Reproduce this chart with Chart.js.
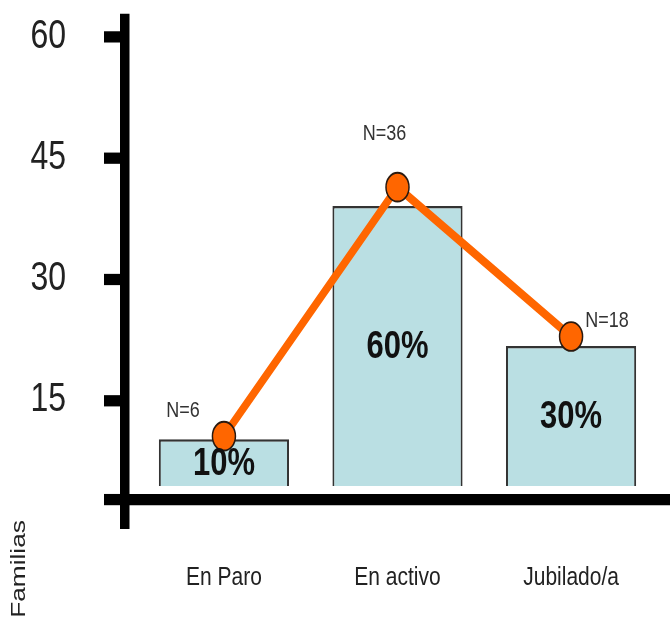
<!DOCTYPE html>
<html lang="es">
<head>
<meta charset="UTF-8">
<title>Familias</title>
<script src="https://cdn.jsdelivr.net/npm/chart.js"></script>
<style>
  html, body { margin: 0; padding: 0; background: #fff; }
  canvas { display: block; }
</style>
</head>
<body>
<canvas id="familias" width="670" height="495"></canvas>
<script>
// situación laboral
const categories = ['En Paro', 'En activo', 'Jubilado/a'];
const porcentajes = [10, 60, 30];      // barras
const familias = [6, 36, 18];          // línea (N)
const yTicks = [15, 30, 45, 60];

const fuente = "'Liberation Sans', Arial, Helvetica, sans-serif";
const xAxisAt = 2.75;   // altura del eje horizontal sobre la escala visible
const nOffsets = [[-41, -20], [-13, -43], [36, -13]];
const estirado = 619 / 495;   // el gráfico se dibuja alargado en vertical

const etiquetas = {
  id: 'etiquetas',
  afterDatasetsDraw(chart) {
    const ctx = chart.ctx;
    ctx.save();
    ctx.textAlign = 'center';
    ctx.textBaseline = 'middle';

    // porcentaje dentro de cada barra
    ctx.font = 'bold 31px ' + fuente;
    ctx.fillStyle = '#111';
    chart.getDatasetMeta(1).data.forEach((bar, i) => {
      ctx.fillText(porcentajes[i] + '%', bar.x, (bar.y + bar.base) / 2 + 1);
    });

    // N sobre cada punto
    ctx.font = '18px ' + fuente;
    ctx.fillStyle = '#333';
    chart.getDatasetMeta(0).data.forEach((pt, i) => {
      ctx.fillText('N=' + familias[i], pt.x + nOffsets[i][0], pt.y + nOffsets[i][1]);
    });

    // título vertical
    ctx.translate(19, 455);
    ctx.rotate(-Math.PI / 2);
    ctx.font = '21px ' + fuente;
    ctx.fillStyle = '#222';
    ctx.fillText('Familias', 0, 0);
    ctx.restore();
  }
};

const canvas = document.getElementById('familias');
const chart = new Chart(canvas, {
  type: 'bar',
  data: {
    datasets: [
      {
        type: 'line',
        data: familias.map((v, i) => ({ x: i, y: v })),
        yAxisID: 'yN',
        order: 0,
        borderColor: '#FF6600',
        borderWidth: 7,
        pointRadius: 11.5,
        pointBackgroundColor: '#FF6600',
        pointBorderColor: '#2a1a10',
        pointBorderWidth: 1.5,
        tension: 0
      },
      {
        data: porcentajes.map((v, i) => ({ x: i, y: v })),
        yAxisID: 'yPct',
        order: 1,
        backgroundColor: '#BADFE3',
        borderColor: '#333',
        borderWidth: 2,
        barPercentage: 0.75,
        categoryPercentage: 1
      }
    ]
  },
  options: {
    responsive: false,
    animation: false,
    layout: { autoPadding: false, padding: { top: 16, bottom: 77, left: 0, right: 0 } },
    plugins: { legend: { display: false }, tooltip: { enabled: false } },
    scales: {
      x: {
        type: 'linear',
        offset: false,
        min: -0.57,
        max: 2.57,
        position: { y: xAxisAt },
        afterBuildTicks: (s) => { s.ticks = categories.map((c, i) => ({ value: i })); },
        afterFit: (s) => { s.paddingLeft = 0; s.paddingRight = 0; },
        grid: { display: false, drawTicks: false },
        border: { display: true, color: '#000', width: 9 },
        ticks: {
          padding: 50,
          color: '#222',
          font: { family: fuente, size: 21 },
          callback: (v) => categories[v]
        }
      },
      y: {
        min: -0.19,
        max: 62.14,
        afterBuildTicks: (s) => { s.ticks = [xAxisAt].concat(yTicks).map(v => ({ value: v })); },
        afterFit: (s) => { s.width = 125; s.paddingTop = 0; s.paddingBottom = 0; },
        grid: {
          drawOnChartArea: false,
          drawTicks: true,
          tickLength: 21,
          lineWidth: 9,
          tickWidth: 9,
          tickColor: '#000',
          color: '#000'
        },
        border: { display: true, color: '#000', width: 9.5 },
        ticks: {
          padding: 38,
          color: '#222',
          font: { family: fuente, size: 32 },
          callback: (v) => yTicks.includes(v) ? String(v) : ''
        }
      },
      yPct: { display: false, min: -7.88, max: 99.84 },
      yN: { display: false, min: -4.43, max: 56.14 }
    }
  },
  plugins: [etiquetas]
});

// estirar el dibujo en vertical hasta 619 px
canvas.height = 619;
canvas.style.height = '619px';
chart.ctx.setTransform(1, 0, 0, estirado, 0, 0);
chart.draw();
</script>
</body>
</html>
